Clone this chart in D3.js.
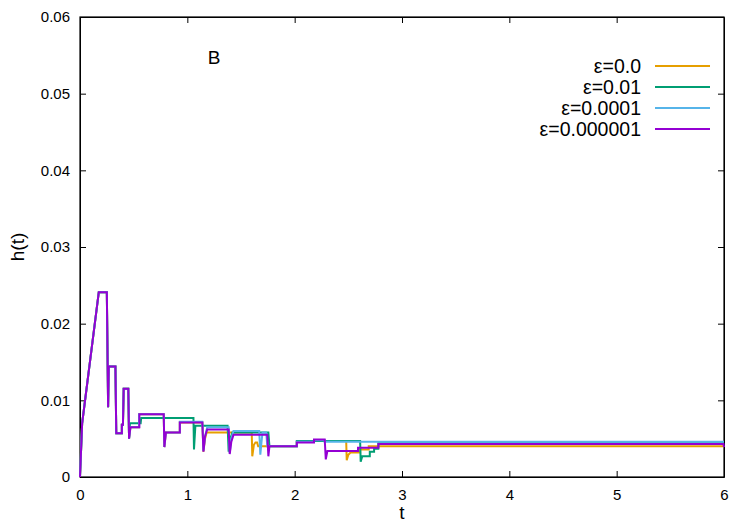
<!DOCTYPE html>
<html>
<head>
<meta charset="utf-8">
<script src="https://cdn.jsdelivr.net/npm/d3@7"></script>
<style>
  body { margin: 0; background: #fff; }
  svg { font-family: "Liberation Sans", Arial, sans-serif; }
  .axis path, .axis line { stroke: #000; }
</style>
</head>
<body>
<div id="chart"></div>
<script>
'use strict';

// Tick values
const xTicks = [0, 1, 2, 3, 4, 5, 6];
const yTicks = [0, 0.01, 0.02, 0.03, 0.04, 0.05, 0.06];

// Common start of all runs [t, h]
const common = [
    [0, 0], [0.02, 0.0070], [0.175, 0.0241], [0.25, 0.0241], [0.262, 0.0091],
    [0.268, 0.0144], [0.33, 0.0144], [0.338, 0.0057], [0.39, 0.0057], [0.39, 0.0068],
    [0.40, 0.0068], [0.407, 0.0115], [0.45, 0.0115], [0.457, 0.0050]
];

const eps0 = [
    [0.47, 0.0065], [0.55, 0.0065], [0.55, 0.0082], [0.78, 0.0082], [0.786, 0.0039],
    [0.80, 0.0058], [0.93, 0.0058], [0.93, 0.0071], [1.14, 0.0071], [1.15, 0.0033],
    [1.165, 0.0050], [1.18, 0.0058], [1.60, 0.0058], [1.605, 0.0027], [1.62, 0.0042],
    [1.635, 0.0045], [1.65, 0.0045], [1.66, 0.0040], [2.02, 0.0040], [2.02, 0.0046],
    [2.18, 0.0046], [2.18, 0.0047], [2.48, 0.0047], [2.485, 0.0022], [2.50, 0.0029],
    [2.52, 0.0032], [2.61, 0.0032], [2.61, 0.0036], [2.69, 0.0036], [2.69, 0.0040],
    [6, 0.0040]
];

const eps001 = [
    [0.465, 0.0070], [0.565, 0.0070], [0.57, 0.0077], [1.057, 0.0077], [1.062, 0.0036],
    [1.075, 0.0067], [1.375, 0.0067], [1.385, 0.0033], [1.40, 0.0050], [1.42, 0.0058],
    [1.755, 0.0058], [1.765, 0.0040], [2.02, 0.0040], [2.02, 0.0047], [2.61, 0.0047],
    [2.615, 0.0020], [2.63, 0.0027], [2.70, 0.0027], [2.70, 0.0033], [2.74, 0.0033],
    [2.74, 0.0037], [2.78, 0.0037], [2.78, 0.0044], [6, 0.0044]
];

const eps00001 = [
    [0.47, 0.0065], [0.55, 0.0065], [0.55, 0.0082], [0.78, 0.0082], [0.786, 0.0039],
    [0.80, 0.0058], [0.93, 0.0058], [0.93, 0.0072], [1.14, 0.0072], [1.15, 0.0034],
    [1.165, 0.0053], [1.185, 0.0065], [1.385, 0.0065], [1.395, 0.0031], [1.41, 0.0050],
    [1.43, 0.0060], [1.67, 0.0060], [1.68, 0.0029], [1.69, 0.0044], [1.70, 0.0058],
    [1.735, 0.0058], [1.745, 0.0040], [2.02, 0.0040], [2.02, 0.0046], [2.18, 0.0046],
    [2.18, 0.0048], [2.28, 0.0048], [2.28, 0.0046], [6, 0.0046]
];

const eps000001 = [
    [0.47, 0.0065], [0.553, 0.0065], [0.553, 0.0082], [0.78, 0.0082], [0.786, 0.0039],
    [0.80, 0.0058], [0.93, 0.0058], [0.93, 0.0071], [1.14, 0.0071], [1.15, 0.0033],
    [1.165, 0.0053], [1.185, 0.0062], [1.385, 0.0062], [1.395, 0.0030], [1.41, 0.0046],
    [1.43, 0.0055], [1.745, 0.0055], [1.755, 0.0027], [1.765, 0.0040], [2.02, 0.0040],
    [2.02, 0.0045], [2.18, 0.0045], [2.18, 0.0049], [2.28, 0.0049], [2.29, 0.0023],
    [2.305, 0.0034], [2.59, 0.0034], [2.59, 0.0038], [2.78, 0.0038], [2.78, 0.0043],
    [5.995, 0.0043], [6, 0.0039]
];

const seriesNames = ['ε=0.0', 'ε=0.01', 'ε=0.0001', 'ε=0.000001'];
const seriesColors = ['#e69f00', '#009e73', '#56b4e9', '#9400d3'];
const seriesValues = [eps0, eps001, eps00001, eps000001].map(s => common.concat(s));

const width = 750, height = 525;
const margins = { left: 80, right: 26, top: 17, bottom: 48 };
const innerW = width - margins.left - margins.right;
const innerH = height - margins.top - margins.bottom;

const svg = d3.select('#chart').append('svg')
    .attr('width', width)
    .attr('height', height);

const chart = svg.append('g')
    .attr('transform', `translate(${margins.left}, ${margins.top})`);

const scaleX = d3.scaleLinear().domain([0, 6]).range([0, innerW]);
const scaleY = d3.scaleLinear().domain([0, 0.06]).range([innerH, 0]);

// Axes, ticks pointing inward, mirrored on top and right
const tickLen = 6;
chart.append('g')
    .classed('axis', true)
    .attr('transform', `translate(0, ${innerH})`)
    .call(d3.axisBottom(scaleX).tickValues(xTicks).tickFormat(d3.format('d')).tickSizeInner(-tickLen).tickSizeOuter(0).tickPadding(12))
    .call(g => g.selectAll('text').style('font-size', '15px').attr('fill', '#000'));

chart.append('g')
    .classed('axis', true)
    .call(d3.axisLeft(scaleY).tickValues(yTicks).tickFormat(d => d === 0 ? '0' : d3.format('.2f')(d)).tickSizeInner(-tickLen).tickSizeOuter(0).tickPadding(10))
    .call(g => g.selectAll('text').style('font-size', '15px').attr('fill', '#000'));

chart.append('g')
    .classed('axis', true)
    .call(d3.axisTop(scaleX).tickValues(xTicks.slice(1, -1)).tickFormat('').tickSizeInner(-tickLen).tickSizeOuter(0));

chart.append('g')
    .classed('axis', true)
    .attr('transform', `translate(${innerW}, 0)`)
    .call(d3.axisRight(scaleY).tickValues(yTicks.slice(1, -1)).tickFormat('').tickSizeInner(-tickLen).tickSizeOuter(0));

// Frame
chart.append('rect')
    .attr('width', innerW)
    .attr('height', innerH)
    .attr('fill', 'none')
    .attr('stroke', '#000')
    .attr('stroke-width', 1.2);

// Lines
const line = d3.line()
    .x(d => scaleX(d[0]))
    .y(d => scaleY(d[1]));

chart.selectAll('path.series')
    .data(seriesValues)
    .join('path')
    .classed('series', true)
    .attr('d', line)
    .attr('fill', 'none')
    .attr('stroke', (d, i) => seriesColors[i])
    .attr('stroke-width', 2)
    .attr('stroke-linejoin', 'miter');

// Legend
const legend = chart.append('g')
    .attr('transform', `translate(${innerW}, 0)`);

const items = legend.selectAll('g.legend-item')
    .data(seriesNames)
    .join('g')
    .classed('legend-item', true)
    .attr('transform', (d, i) => `translate(0, ${49 + i * 21})`);

items.append('text')
    .attr('x', -83)
    .attr('dy', '0.35em')
    .attr('text-anchor', 'end')
    .style('font-size', '19.5px')
    .text(d => d);

items.append('line')
    .attr('x1', -69)
    .attr('x2', -14)
    .attr('stroke', (d, i) => seriesColors[i])
    .attr('stroke-width', 2);

// Panel label
chart.append('text')
    .attr('x', scaleX(1.25))
    .attr('y', scaleY(0.0548))
    .attr('dy', '0.35em')
    .attr('text-anchor', 'middle')
    .style('font-size', '19px')
    .text('B');

// Axis titles
svg.append('text')
    .attr('transform', `translate(17, ${margins.top + innerH / 2}) rotate(-90)`)
    .attr('text-anchor', 'middle')
    .attr('dy', '0.35em')
    .style('font-size', '19px')
    .text('h(t)');

svg.append('text')
    .attr('x', margins.left + innerW / 2)
    .attr('y', 512)
    .attr('text-anchor', 'middle')
    .attr('dy', '0.35em')
    .style('font-size', '19px')
    .text('t');
</script>
</body>
</html>
